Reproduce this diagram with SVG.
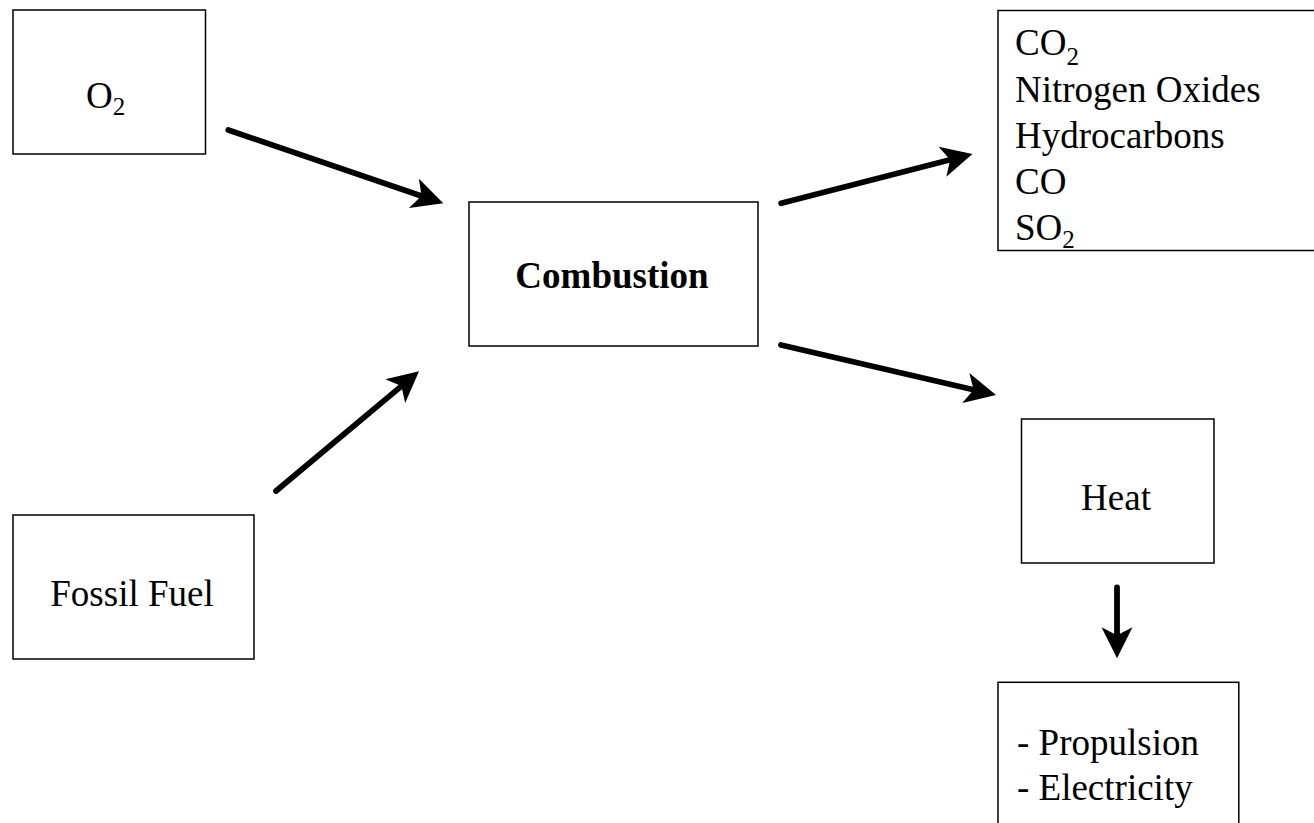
<svg xmlns="http://www.w3.org/2000/svg" width="1314" height="823" viewBox="0 0 1314 823">
<style>
.box{fill:#fff;stroke:#000;stroke-width:1.5}
.t{font-family:"Liberation Serif","Times New Roman",serif;font-size:37px;fill:#000}
.b{font-weight:bold}
.sub{font-size:25px}
.c{fill:none;stroke:#000;stroke-width:5.8;stroke-linecap:round}
</style>
<defs>
<marker id="ah" markerUnits="userSpaceOnUse" viewBox="-2 -18 36 36" markerWidth="36" markerHeight="36" refX="8" refY="0" orient="auto">
<path d="M0,-15.5 L31,0 L0,15.5 L8,0 z" fill="#000"/>
</marker>
</defs>
<rect width="1314" height="823" fill="#fff"/>
<g id="o2">
<rect class="box" x="13" y="10" width="192.5" height="144"/>
<text class="t" x="86" y="108">O<tspan class="sub" dy="7">2</tspan></text>
</g>
<g id="fossil">
<rect class="box" x="13" y="515" width="241" height="144"/>
<text class="t" x="132" y="606" text-anchor="middle">Fossil Fuel</text>
</g>
<g id="combustion">
<rect class="box" x="469" y="202" width="289" height="144"/>
<text class="t b" x="612" y="288" text-anchor="middle">Combustion</text>
</g>
<g id="emissions">
<rect class="box" x="998" y="10.5" width="330" height="240"/>
<text class="t" x="1015" y="55">CO<tspan class="sub" dy="10">2</tspan></text>
<text class="t" x="1015" y="101.5">Nitrogen Oxides</text>
<text class="t" x="1015" y="147.5">Hydrocarbons</text>
<text class="t" x="1015" y="193.5">CO</text>
<text class="t" x="1015" y="240">SO<tspan class="sub" dy="8">2</tspan></text>
</g>
<g id="heat">
<rect class="box" x="1021.5" y="419" width="192.5" height="144"/>
<text class="t" x="1116" y="510" text-anchor="middle">Heat</text>
</g>
<g id="uses">
<rect class="box" x="998" y="682.3" width="240.8" height="160"/>
<text class="t" x="1017" y="755">- Propulsion</text>
<text class="t" x="1017" y="800">- Electricity</text>
</g>
<g id="connectors">
<path class="c" d="M228.3,130 L421.5,195.9" marker-end="url(#ah)"/>
<path class="c" d="M276,491 L401.4,386.1" marker-end="url(#ah)"/>
<path class="c" d="M781.2,203.3 L950.2,159.7" marker-end="url(#ah)"/>
<path class="c" d="M781,345 L973.6,389.8" marker-end="url(#ah)"/>
<path class="c" d="M1117,587.5 L1117,635.3" marker-end="url(#ah)"/>
</g>
</svg>
